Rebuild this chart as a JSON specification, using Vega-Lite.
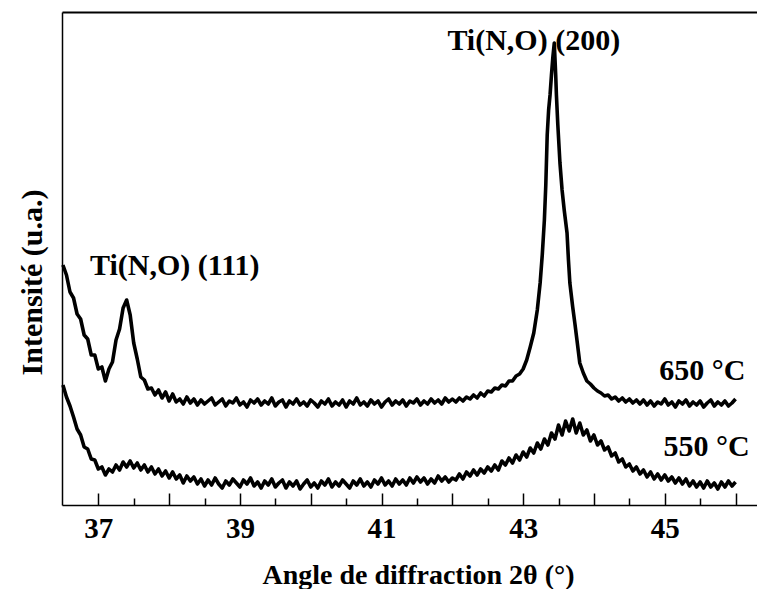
{
"$schema": "https://vega.github.io/schema/vega-lite/v6.json",
"width": 695,
"height": 493,
"autosize": {"type": "none"},
"padding": {"left": 62, "top": 12, "right": 0, "bottom": 84},
"background": "white",
"config": {
  "view": {"stroke": null},
  "axis": {"domainColor": "black", "tickColor": "black", "labelColor": "black", "titleColor": "black", "labelFont": "Liberation Serif", "titleFont": "Liberation Serif", "labelFontWeight": "bold", "titleFontWeight": "bold", "grid": false}
},
"datasets": {
"t650": [
{"t":36.50,"i":240},{"t":36.55,"i":230},{"t":36.60,"i":213},{"t":36.65,"i":207},{"t":36.70,"i":191},{"t":36.75,"i":186},{"t":36.80,"i":170},{"t":36.85,"i":166},{"t":36.90,"i":150},{"t":36.95,"i":150},
{"t":37.00,"i":136},{"t":37.05,"i":138},{"t":37.10,"i":124},{"t":37.15,"i":136},{"t":37.20,"i":143},{"t":37.25,"i":165},{"t":37.30,"i":176},{"t":37.35,"i":197},{"t":37.40,"i":205},{"t":37.45,"i":190},
{"t":37.50,"i":162},{"t":37.55,"i":146},{"t":37.60,"i":128},{"t":37.65,"i":125},{"t":37.70,"i":116},{"t":37.75,"i":117},{"t":37.80,"i":110},{"t":37.85,"i":115},{"t":37.90,"i":107},{"t":37.95,"i":113},
{"t":38.00,"i":104},{"t":38.05,"i":111},{"t":38.10,"i":103},{"t":38.15,"i":106},{"t":38.20,"i":101},{"t":38.25,"i":108},{"t":38.30,"i":102},{"t":38.35,"i":106},{"t":38.40,"i":100},{"t":38.45,"i":105},
{"t":38.50,"i":101},{"t":38.55,"i":104},{"t":38.60,"i":107},{"t":38.65,"i":100},{"t":38.70,"i":103},{"t":38.75,"i":106},{"t":38.80,"i":99},{"t":38.85,"i":104},{"t":38.90,"i":102},{"t":38.95,"i":107},
{"t":39.00,"i":100},{"t":39.05,"i":103},{"t":39.10,"i":98},{"t":39.15,"i":105},{"t":39.20,"i":102},{"t":39.25,"i":106},{"t":39.30,"i":100},{"t":39.35,"i":104},{"t":39.40,"i":101},{"t":39.45,"i":107},
{"t":39.50,"i":99},{"t":39.55,"i":103},{"t":39.60,"i":105},{"t":39.65,"i":98},{"t":39.70,"i":104},{"t":39.75,"i":101},{"t":39.80,"i":106},{"t":39.85,"i":100},{"t":39.90,"i":103},{"t":39.95,"i":99},
{"t":40.00,"i":105},{"t":40.05,"i":102},{"t":40.10,"i":98},{"t":40.15,"i":104},{"t":40.20,"i":101},{"t":40.25,"i":106},{"t":40.30,"i":99},{"t":40.35,"i":103},{"t":40.40,"i":100},{"t":40.45,"i":105},
{"t":40.50,"i":98},{"t":40.55,"i":104},{"t":40.60,"i":101},{"t":40.65,"i":107},{"t":40.70,"i":100},{"t":40.75,"i":103},{"t":40.80,"i":99},{"t":40.85,"i":105},{"t":40.90,"i":101},{"t":40.95,"i":104},
{"t":41.00,"i":98},{"t":41.05,"i":103},{"t":41.10,"i":106},{"t":41.15,"i":100},{"t":41.20,"i":104},{"t":41.25,"i":101},{"t":41.30,"i":105},{"t":41.35,"i":99},{"t":41.40,"i":104},{"t":41.45,"i":102},
{"t":41.50,"i":106},{"t":41.55,"i":100},{"t":41.60,"i":104},{"t":41.65,"i":101},{"t":41.70,"i":106},{"t":41.75,"i":102},{"t":41.80,"i":105},{"t":41.85,"i":101},{"t":41.90,"i":107},{"t":41.95,"i":103},
{"t":42.00,"i":106},{"t":42.05,"i":103},{"t":42.10,"i":107},{"t":42.15,"i":104},{"t":42.20,"i":108},{"t":42.25,"i":106},{"t":42.30,"i":110},{"t":42.35,"i":107},{"t":42.40,"i":112},{"t":42.45,"i":109},
{"t":42.50,"i":114},{"t":42.55,"i":113},{"t":42.60,"i":117},{"t":42.65,"i":116},{"t":42.70,"i":120},{"t":42.75,"i":119},{"t":42.80,"i":124},{"t":42.85,"i":124},{"t":42.90,"i":129},{"t":42.95,"i":131},
{"t":43.00,"i":136},{"t":43.05,"i":145},{"t":43.10,"i":158},{"t":43.15,"i":172},{"t":43.20,"i":195},{"t":43.24,"i":222},{"t":43.27,"i":250},{"t":43.30,"i":285},{"t":43.32,"i":320},{"t":43.34,"i":370},
{"t":43.36,"i":395},{"t":43.38,"i":410},{"t":43.40,"i":430},{"t":43.42,"i":448},{"t":43.44,"i":462},{"t":43.46,"i":430},{"t":43.47,"i":410},{"t":43.49,"i":380},{"t":43.52,"i":342},{"t":43.55,"i":315},
{"t":43.58,"i":295},{"t":43.62,"i":272},{"t":43.64,"i":245},{"t":43.66,"i":222},{"t":43.70,"i":198},{"t":43.73,"i":182},{"t":43.76,"i":165},{"t":43.80,"i":142},{"t":43.85,"i":132},{"t":43.90,"i":124},
{"t":43.95,"i":121},{"t":44.00,"i":117},{"t":44.05,"i":114},{"t":44.10,"i":112},{"t":44.15,"i":109},{"t":44.20,"i":110},{"t":44.25,"i":106},{"t":44.30,"i":108},{"t":44.35,"i":104},{"t":44.40,"i":107},
{"t":44.45,"i":103},{"t":44.50,"i":106},{"t":44.55,"i":102},{"t":44.60,"i":105},{"t":44.65,"i":101},{"t":44.70,"i":105},{"t":44.75,"i":100},{"t":44.80,"i":104},{"t":44.85,"i":99},{"t":44.90,"i":103},
{"t":44.95,"i":101},{"t":45.00,"i":106},{"t":45.05,"i":100},{"t":45.10,"i":103},{"t":45.15,"i":98},{"t":45.20,"i":104},{"t":45.25,"i":101},{"t":45.30,"i":105},{"t":45.35,"i":99},{"t":45.40,"i":103},
{"t":45.45,"i":100},{"t":45.50,"i":104},{"t":45.55,"i":98},{"t":45.60,"i":102},{"t":45.65,"i":105},{"t":45.70,"i":99},{"t":45.75,"i":103},{"t":45.80,"i":100},{"t":45.85,"i":104},{"t":45.90,"i":99},
{"t":45.95,"i":102},{"t":46.00,"i":106}
],
"t550": [
{"t":36.50,"i":120},{"t":36.55,"i":108},{"t":36.60,"i":99},{"t":36.65,"i":88},{"t":36.70,"i":76},{"t":36.75,"i":70},{"t":36.80,"i":58},{"t":36.85,"i":56},{"t":36.90,"i":46},{"t":36.95,"i":45},
{"t":37.00,"i":36},{"t":37.05,"i":38},{"t":37.10,"i":30},{"t":37.15,"i":36},{"t":37.20,"i":33},{"t":37.25,"i":40},{"t":37.30,"i":35},{"t":37.35,"i":43},{"t":37.40,"i":38},{"t":37.45,"i":44},
{"t":37.50,"i":37},{"t":37.55,"i":42},{"t":37.60,"i":35},{"t":37.65,"i":40},{"t":37.70,"i":33},{"t":37.75,"i":38},{"t":37.80,"i":31},{"t":37.85,"i":36},{"t":37.90,"i":29},{"t":37.95,"i":34},
{"t":38.00,"i":27},{"t":38.05,"i":33},{"t":38.10,"i":26},{"t":38.15,"i":30},{"t":38.20,"i":22},{"t":38.25,"i":29},{"t":38.30,"i":24},{"t":38.35,"i":28},{"t":38.40,"i":21},{"t":38.45,"i":26},
{"t":38.50,"i":19},{"t":38.55,"i":25},{"t":38.60,"i":20},{"t":38.65,"i":27},{"t":38.70,"i":21},{"t":38.75,"i":17},{"t":38.80,"i":24},{"t":38.85,"i":20},{"t":38.90,"i":26},{"t":38.95,"i":22},
{"t":39.00,"i":18},{"t":39.05,"i":25},{"t":39.10,"i":21},{"t":39.15,"i":27},{"t":39.20,"i":19},{"t":39.25,"i":23},{"t":39.30,"i":17},{"t":39.35,"i":24},{"t":39.40,"i":20},{"t":39.45,"i":26},
{"t":39.50,"i":18},{"t":39.55,"i":22},{"t":39.60,"i":25},{"t":39.65,"i":17},{"t":39.70,"i":23},{"t":39.75,"i":19},{"t":39.80,"i":24},{"t":39.85,"i":16},{"t":39.90,"i":21},{"t":39.95,"i":25},
{"t":40.00,"i":18},{"t":40.05,"i":22},{"t":40.10,"i":17},{"t":40.15,"i":24},{"t":40.20,"i":20},{"t":40.25,"i":26},{"t":40.30,"i":18},{"t":40.35,"i":23},{"t":40.40,"i":19},{"t":40.45,"i":25},
{"t":40.50,"i":21},{"t":40.55,"i":17},{"t":40.60,"i":24},{"t":40.65,"i":20},{"t":40.70,"i":26},{"t":40.75,"i":19},{"t":40.80,"i":23},{"t":40.85,"i":18},{"t":40.90,"i":25},{"t":40.95,"i":21},
{"t":41.00,"i":27},{"t":41.05,"i":20},{"t":41.10,"i":24},{"t":41.15,"i":19},{"t":41.20,"i":26},{"t":41.25,"i":21},{"t":41.30,"i":25},{"t":41.35,"i":20},{"t":41.40,"i":27},{"t":41.45,"i":22},
{"t":41.50,"i":28},{"t":41.55,"i":23},{"t":41.60,"i":27},{"t":41.65,"i":21},{"t":41.70,"i":26},{"t":41.75,"i":22},{"t":41.80,"i":29},{"t":41.85,"i":24},{"t":41.90,"i":28},{"t":41.95,"i":23},
{"t":42.00,"i":27},{"t":42.05,"i":25},{"t":42.10,"i":31},{"t":42.15,"i":26},{"t":42.20,"i":33},{"t":42.25,"i":29},{"t":42.30,"i":35},{"t":42.35,"i":30},{"t":42.40,"i":36},{"t":42.45,"i":32},
{"t":42.50,"i":38},{"t":42.55,"i":34},{"t":42.60,"i":40},{"t":42.65,"i":35},{"t":42.70,"i":44},{"t":42.75,"i":40},{"t":42.80,"i":47},{"t":42.85,"i":42},{"t":42.90,"i":50},{"t":42.95,"i":45},
{"t":43.00,"i":53},{"t":43.05,"i":48},{"t":43.10,"i":57},{"t":43.15,"i":52},{"t":43.20,"i":62},{"t":43.25,"i":56},{"t":43.30,"i":66},{"t":43.35,"i":60},{"t":43.40,"i":72},{"t":43.45,"i":66},
{"t":43.50,"i":80},{"t":43.55,"i":70},{"t":43.60,"i":84},{"t":43.65,"i":74},{"t":43.70,"i":86},{"t":43.75,"i":72},{"t":43.80,"i":82},{"t":43.85,"i":70},{"t":43.90,"i":75},{"t":43.95,"i":64},
{"t":44.00,"i":70},{"t":44.05,"i":60},{"t":44.10,"i":64},{"t":44.15,"i":55},{"t":44.20,"i":58},{"t":44.25,"i":49},{"t":44.30,"i":52},{"t":44.35,"i":43},{"t":44.40,"i":46},{"t":44.45,"i":38},
{"t":44.50,"i":41},{"t":44.55,"i":34},{"t":44.60,"i":38},{"t":44.65,"i":31},{"t":44.70,"i":35},{"t":44.75,"i":28},{"t":44.80,"i":33},{"t":44.85,"i":26},{"t":44.90,"i":31},{"t":44.95,"i":25},
{"t":45.00,"i":30},{"t":45.05,"i":24},{"t":45.10,"i":28},{"t":45.15,"i":22},{"t":45.20,"i":27},{"t":45.25,"i":21},{"t":45.30,"i":26},{"t":45.35,"i":19},{"t":45.40,"i":24},{"t":45.45,"i":18},
{"t":45.50,"i":23},{"t":45.55,"i":17},{"t":45.60,"i":24},{"t":45.65,"i":18},{"t":45.70,"i":22},{"t":45.75,"i":16},{"t":45.80,"i":23},{"t":45.85,"i":18},{"t":45.90,"i":24},{"t":45.95,"i":19},
{"t":46.00,"i":23}
],
"ann": [
{"t":38.08,"i":230,"label":"Ti(N,O) (111)"},
{"t":43.15,"i":455,"label":"Ti(N,O) (200)"},
{"t":45.53,"i":125,"label":"650 °C"},
{"t":45.59,"i":49,"label":"550 °C"}
]
},
"layer": [
{
  "data": {"name": "t650"},
  "mark": {"type": "line", "color": "black", "strokeWidth": 3.6, "strokeJoin": "round"},
  "encoding": {
    "x": {"field": "t", "type": "quantitative", "scale": {"domain": [36.487, 46.303], "nice": false, "zero": false},
      "axis": {"orient": "bottom", "values": [37,38,39,40,41,42,43,44,45,46], "tickSize": -12, "tickWidth": 1.5, "domainWidth": 1.5,
        "labelExpr": "datum.value % 2 == 1 ? datum.label : ''", "labelFontSize": 29, "labelBaseline": "alphabetic", "labelPadding": 44,
        "labelFlush": false, "labelOverlap": false, "labelBound": false,
        "title": "Angle de diffraction 2θ (°)", "titleFontSize": 28, "titleX": 356, "titleY": 78, "titleBaseline": "alphabetic", "titleAlign": "center"}},
    "y": {"field": "i", "type": "quantitative", "scale": {"domain": [0, 493], "nice": false, "zero": false},
      "axis": {"orient": "left", "ticks": false, "labels": false, "domainWidth": 1.5,
        "title": "Intensité (u.a.)", "titleFontSize": 30, "titleAngle": -90, "titleX": -21, "titleY": 270, "titleBaseline": "alphabetic", "titleAlign": "center"}}
  }
},
{
  "data": {"name": "t550"},
  "mark": {"type": "line", "color": "black", "strokeWidth": 3.6, "strokeJoin": "round"},
  "encoding": {
    "x": {"field": "t", "type": "quantitative", "scale": {"domain": [36.487, 46.303], "nice": false, "zero": false},
      "axis": {"orient": "bottom", "values": [37.5,38.5,39.5,40.5,41.5,42.5,43.5,44.5,45.5], "tickSize": -7, "tickWidth": 1.5, "labels": false, "domain": false, "title": null}},
    "y": {"field": "i", "type": "quantitative", "scale": {"domain": [0, 493], "nice": false, "zero": false}, "axis": null}
  }
},
{
  "data": {"name": "ann"},
  "mark": {"type": "text", "font": "Liberation Serif", "fontWeight": "bold", "fontSize": 30, "align": "center", "baseline": "alphabetic", "color": "black"},
  "encoding": {
    "x": {"field": "t", "type": "quantitative", "scale": {"domain": [36.487, 46.303], "nice": false, "zero": false},
      "axis": {"orient": "top", "ticks": false, "labels": false, "domain": true, "domainWidth": 2, "title": null}},
    "y": {"field": "i", "type": "quantitative", "scale": {"domain": [0, 493], "nice": false, "zero": false}, "axis": null},
    "text": {"field": "label"}
  }
}
],
"resolve": {"axis": {"x": "independent", "y": "independent"}}
}
